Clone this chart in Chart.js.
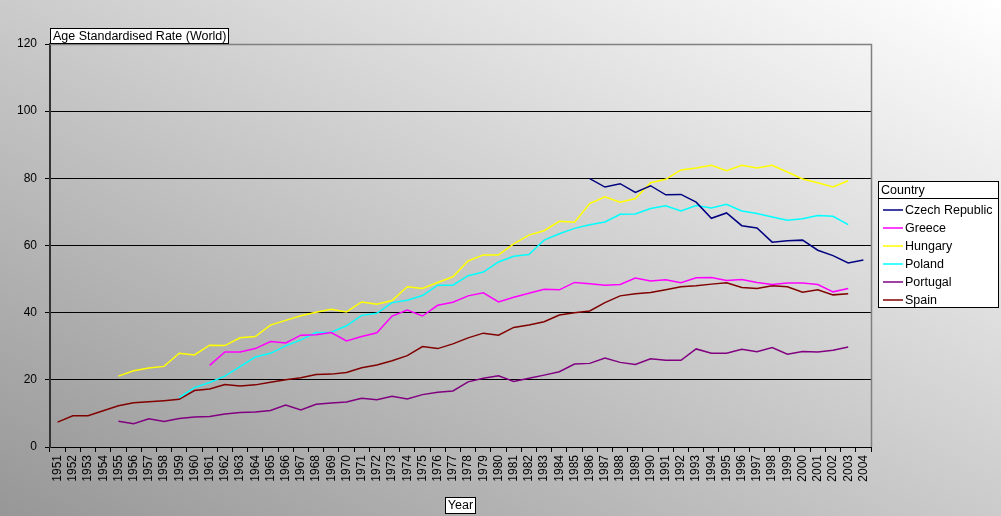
<!DOCTYPE html>
<html>
<head>
<meta charset="utf-8">
<script src="https://cdn.jsdelivr.net/npm/chart.js@4.4.1/dist/chart.umd.min.js"></script>
<style>
  html, body { margin: 0; padding: 0; background: #ffffff; }
  #wrap { width: 1001px; height: 516px; position: relative; }
</style>
</head>
<body>
<div id="wrap"><canvas id="c" width="1001" height="516"></canvas></div>
<script>
// ---- Data ----
const firstYear = 1951;
const lastYear = 2004;
const years = [];
for (let y = firstYear; y <= lastYear; y++) years.push(String(y));

const yTicks = [0, 20, 40, 60, 80, 100, 120];
const yAxisTitle = 'Age Standardised Rate (World)';
const xAxisTitle = 'Year';
const legendTitle = 'Country';

const countries = ['Czech Republic', 'Greece', 'Hungary', 'Poland', 'Portugal', 'Spain'];
const countryColors = ['#000080', '#FF00FF', '#FFFF00', '#00FFFF', '#800080', '#800000'];

// values start at the given year
const czechStart = 1986;
const czechValues = [79.9, 77.4, 78.4, 75.8, 77.8, 75.1, 75.2, 72.9, 68.1, 69.7, 65.9, 65.2, 61.0, 61.4, 61.6, 58.6, 57.0, 54.8, 55.7];

const greeceStart = 1961;
const greeceValues = [24.3, 28.3, 28.3, 29.3, 31.4, 31.0, 33.3, 33.4, 34.1,
  31.6, 32.9, 34.0, 39.0, 40.8, 39.0, 42.2, 43.1, 45.0, 45.9,
  43.2, 44.6, 45.8, 47.0, 46.8, 49.0, 48.6, 48.2, 48.4, 50.3,
  49.4, 49.8, 48.9, 50.4, 50.5, 49.6, 49.9, 49.0, 48.4, 48.8,
  48.8, 48.4, 46.2, 47.2];

const hungaryStart = 1955;
const hungaryValues = [21.1, 22.7, 23.5, 24.0, 27.9, 27.4, 30.3, 30.2, 32.5, 32.9, 36.3, 37.7, 39.1, 40.1, 41.0,
  40.2, 43.2, 42.5, 43.6, 47.7, 47.2, 49.0, 50.7, 55.4, 57.2,
  57.2, 60.5, 63.1, 64.4, 67.2, 66.9, 72.5, 74.5, 72.9, 74.0,
  78.7, 79.7, 82.5, 83.1, 83.9, 82.3, 83.9, 83.1, 83.9, 81.9,
  79.8, 78.7, 77.4, 79.3];

const polandStart = 1959;
const polandValues = [14.7, 17.7, 19.2, 21.1, 23.9, 26.8, 27.9, 30.1, 31.9, 34.1, 34.2,
  36.1, 39.2, 39.8, 43.0, 43.7, 45.1, 48.2, 48.2, 51.0, 52.1,
  55.1, 56.8, 57.3, 61.6, 63.5, 65.1, 66.2, 67.0, 69.3, 69.4,
  71.0, 71.8, 70.3, 71.9, 71.2, 72.3, 70.3, 69.5, 68.5, 67.5,
  68.0, 68.9, 68.7, 66.2];

const portugalStart = 1955;
const portugalValues = [7.7, 6.9, 8.4, 7.6, 8.5, 8.9, 9.1, 9.8, 10.3, 10.4, 10.9, 12.5, 11.0, 12.7, 13.1,
  13.4, 14.5, 14.1, 15.1, 14.3, 15.6, 16.3, 16.7, 19.4, 20.5,
  21.2, 19.5, 20.5, 21.4, 22.4, 24.7, 24.9, 26.5, 25.2, 24.6,
  26.3, 25.8, 25.8, 29.2, 27.9, 27.9, 29.1, 28.4, 29.6, 27.6,
  28.4, 28.3, 28.8, 29.8];

const spainStart = 1951;
const spainValues = [7.4, 9.3, 9.3, 10.8, 12.3, 13.2, 13.5, 13.8, 14.2,
  16.8, 17.3, 18.6, 18.2, 18.5, 19.3, 20.0, 20.6, 21.6, 21.7,
  22.2, 23.6, 24.4, 25.7, 27.2, 29.9, 29.3, 30.7, 32.5, 33.9,
  33.3, 35.6, 36.3, 37.3, 39.3, 40.0, 40.5, 43.0, 45.0, 45.6,
  46.0, 46.8, 47.7, 48.0, 48.5, 48.9, 47.5, 47.2, 48.0, 47.7,
  46.1, 46.8, 45.3, 45.6];

// align a series to the full list of years (missing years -> null)
function align(start, values) {
  return years.map((y) => {
    const i = Number(y) - start;
    return (i >= 0 && i < values.length) ? values[i] : null;
  });
}

const seriesData = [
  align(czechStart, czechValues),
  align(greeceStart, greeceValues),
  align(hungaryStart, hungaryValues),
  align(polandStart, polandValues),
  align(portugalStart, portugalValues),
  align(spainStart, spainValues)
];

// ---- Drawing helpers ----
const FONT = '"Liberation Sans", Arial, sans-serif';

// gradient whose isolines run along the rectangle's TL-BR diagonal (dark at BL, light at TR)
function diagGradient(ctx, x, y, w, h, c0, c1) {
  const cx = x + w / 2, cy = y + h / 2;
  const len = Math.hypot(w, h);
  const dx = h / len, dy = -w / len;
  const half = (w / 2) * dx + (-h / 2) * dy; // projection of TR corner
  const g = ctx.createLinearGradient(cx - dx * half, cy - dy * half, cx + dx * half, cy + dy * half);
  g.addColorStop(0, c0);
  g.addColorStop(1, c1);
  return g;
}

const bgPlugin = {
  id: 'bg',
  beforeDraw(chart) {
    const ctx = chart.ctx;
    const W = chart.width, H = chart.height;
    ctx.save();
    ctx.fillStyle = diagGradient(ctx, 0, 0, W, H, '#979797', '#ffffff');
    ctx.fillRect(0, 0, W, H);
    const a = chart.chartArea;
    ctx.fillStyle = diagGradient(ctx, a.left, a.top, a.right - a.left, a.bottom - a.top, '#9e9e9e', '#f4f4f4');
    ctx.fillRect(a.left, a.top, a.right - a.left, a.bottom - a.top);
    ctx.restore();
  },
  afterDraw(chart) {
    const ctx = chart.ctx;
    const a = chart.chartArea;
    ctx.save();
    // plot border top/right
    ctx.strokeStyle = '#808080';
    ctx.lineWidth = 1.5;
    ctx.beginPath();
    ctx.moveTo(a.left, a.top + 0.5);
    ctx.lineTo(a.right + 0.5, a.top + 0.5);
    ctx.lineTo(a.right + 0.5, a.bottom);
    ctx.stroke();

    ctx.font = '12.5px ' + FONT;
    ctx.textBaseline = 'middle';
    function box(text, x, y, w, h, align) {
      ctx.fillStyle = '#ffffff';
      ctx.fillRect(x, y, w, h);
      ctx.strokeStyle = '#000000';
      ctx.lineWidth = 1;
      ctx.strokeRect(x + 0.5, y + 0.5, w - 1, h - 1);
      ctx.fillStyle = '#000000';
      ctx.textAlign = align;
      ctx.fillText(text, align === 'center' ? x + w / 2 : x + 3, y + h / 2 + 0.5);
    }
    const tw = ctx.measureText(yAxisTitle).width;
    box(yAxisTitle, a.left, 28, Math.round(tw + 6), 16, 'left');
    const xw = ctx.measureText(xAxisTitle).width;
    const cx = (a.left + a.right) / 2;
    box(xAxisTitle, Math.round(cx - (xw + 6) / 2), 497, Math.round(xw + 6), 17, 'center');

    // legend
    const lx = 878, ly = 181, lw = 121, lh = 127;
    ctx.fillStyle = '#ffffff';
    ctx.fillRect(lx, ly, lw, lh);
    ctx.strokeStyle = '#000000';
    ctx.lineWidth = 1;
    ctx.strokeRect(lx + 0.5, ly + 0.5, lw - 1, lh - 1);
    ctx.beginPath();
    ctx.moveTo(lx, ly + 17.5);
    ctx.lineTo(lx + lw, ly + 17.5);
    ctx.stroke();
    ctx.fillStyle = '#000000';
    ctx.textAlign = 'left';
    ctx.fillText(legendTitle, lx + 3, ly + 9.5);
    chart.data.datasets.forEach((ds, i) => {
      const yy = ly + 29 + i * 18;
      ctx.strokeStyle = ds.borderColor;
      ctx.lineWidth = 1.5;
      ctx.beginPath();
      ctx.moveTo(lx + 5, yy);
      ctx.lineTo(lx + 25, yy);
      ctx.stroke();
      ctx.fillStyle = '#000000';
      ctx.fillText(ds.label, lx + 27, yy + 0.5);
    });
    ctx.restore();
  }
};

const datasets = countries.map((name, i) => ({
  label: name,
  data: seriesData[i],
  borderColor: countryColors[i],
  backgroundColor: countryColors[i],
  borderWidth: 1.5,
  pointRadius: 0,
  pointHoverRadius: 0,
  tension: 0,
  spanGaps: false,
  fill: false
}));

new Chart(document.getElementById('c'), {
  type: 'line',
  data: { labels: years, datasets: datasets },
  options: {
    responsive: false,
    animation: false,
    events: [],
    layout: { padding: { top: 44, right: 130, left: 0, bottom: 0 } },
    plugins: {
      legend: { display: false },
      tooltip: { enabled: false },
      title: { display: false }
    },
    scales: {
      x: {
        type: 'category',
        offset: true,
        afterFit(scale) { scale.height = 69; },
        grid: {
          offset: true,
          drawOnChartArea: false,
          drawTicks: true,
          tickLength: 5,
          color: '#000000',
          lineWidth: 1
        },
        border: { display: true, color: '#000000', width: 1 },
        ticks: {
          autoSkip: false,
          maxRotation: 90,
          minRotation: 90,
          padding: 3,
          color: '#000000',
          font: { family: FONT, size: 12 }
        }
      },
      y: {
        min: 0,
        max: 120,
        afterFit(scale) { scale.width = 50; },
        afterBuildTicks(scale) { scale.ticks = yTicks.map(v => ({ value: v })); },
        grid: {
          drawOnChartArea: true,
          drawTicks: true,
          tickLength: 5,
          color: '#000000',
          lineWidth: 1
        },
        border: { display: true, color: '#333333', width: 2 },
        ticks: {
          padding: 8,
          color: '#000000',
          font: { family: FONT, size: 12 }
        }
      }
    }
  },
  plugins: [bgPlugin]
});
</script>
</body>
</html>
